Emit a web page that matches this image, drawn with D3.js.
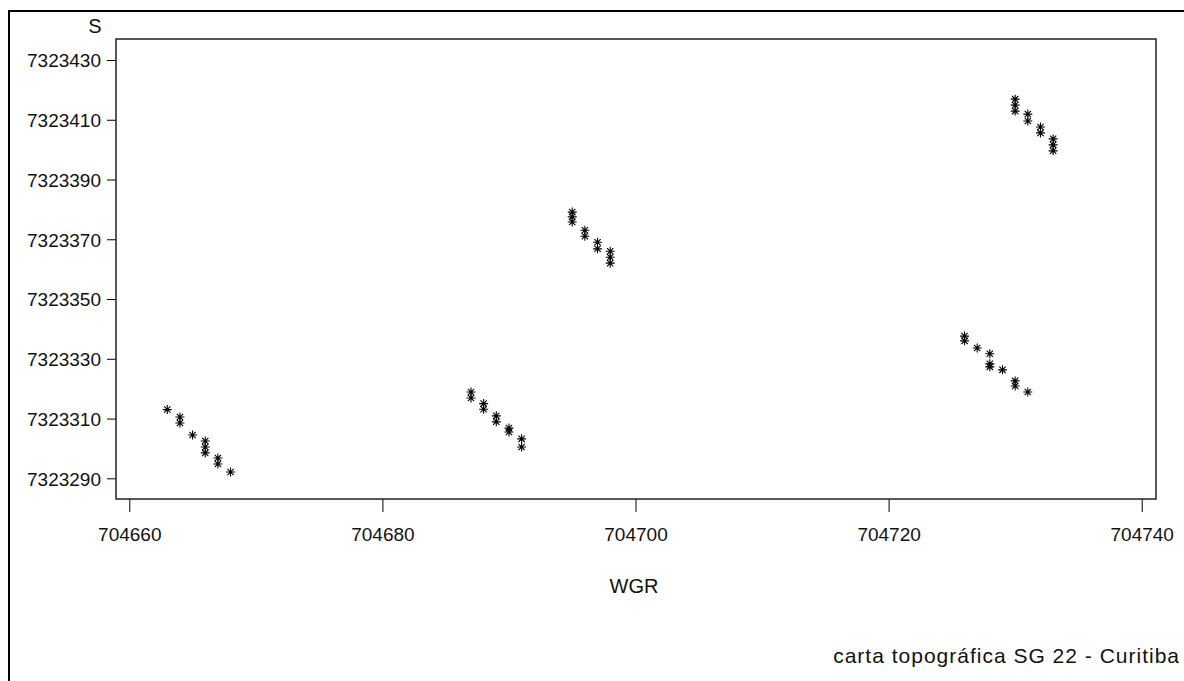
<!DOCTYPE html>
<html>
<head>
<meta charset="utf-8">
<style>
  body { margin: 0; background: #fff; font-family: "Liberation Sans", Arial, sans-serif; }
  svg { display: block; }
  .tick text { font-family: "Liberation Sans", Arial, sans-serif; fill: #111; }
</style>
<script src="https://cdn.jsdelivr.net/npm/d3@7"></script>
</head>
<body>
<svg id="chart"></svg>
<script>
// point coordinates (WGR easting, S northing)
var wgr = [
  704663, 704664, 704664, 704665, 704666, 704666, 704666, 704667, 704667, 704668,
  704687, 704687, 704688, 704688, 704689, 704689, 704690, 704690, 704691, 704691,
  704695, 704695, 704695, 704696, 704696, 704697, 704697, 704698, 704698, 704698,
  704730, 704730, 704730, 704731, 704731, 704732, 704732, 704733, 704733, 704733,
  704726, 704726, 704727, 704728, 704728, 704728, 704729, 704730, 704730, 704731
];
var s = [
  7323313.0, 7323310.5, 7323308.5, 7323304.5, 7323302.5, 7323300.5, 7323298.5, 7323296.8, 7323294.8, 7323292.1,
  7323318.9, 7323316.9, 7323315.0, 7323313.1, 7323310.9, 7323308.9, 7323306.8, 7323305.5, 7323303.2, 7323300.5,
  7323379.1, 7323377.5, 7323375.8, 7323373.0, 7323371.0, 7323369.0, 7323366.8, 7323366.0, 7323364.0, 7323362.0,
  7323416.9, 7323414.9, 7323412.9, 7323411.9, 7323409.6, 7323407.6, 7323405.6, 7323403.6, 7323401.6, 7323399.6,
  7323337.6, 7323336.0, 7323333.6, 7323331.7, 7323328.3, 7323327.3, 7323326.3, 7323322.6, 7323320.9, 7323318.9
];
var xTicks = [704660, 704680, 704700, 704720, 704740];
var yTicks = [7323290, 7323310, 7323330, 7323350, 7323370, 7323390, 7323410, 7323430];

var width = 1184, height = 681;
var svg = d3.select("#chart").attr("width", width).attr("height", height);

// outer frame
svg.append("rect")
  .attr("x", 9).attr("y", 11)
  .attr("width", width + 20).attr("height", height + 20)
  .attr("fill", "none").attr("stroke", "#000").attr("stroke-width", 2);

var plot = { left: 116, top: 39, right: 1156, bottom: 499 };

var x = d3.scaleLinear().domain([704660, 704740]).range([129.3, 1141.7]);
var y = d3.scaleLinear().domain([7323290, 7323430]).range([478.3, 60]);

// x axis
var xAxis = svg.append("g")
  .attr("transform", "translate(0," + plot.bottom + ")")
  .call(d3.axisBottom(x).tickValues(xTicks).tickFormat(d3.format("d"))
    .tickSize(13).tickPadding(16).tickSizeOuter(0));
xAxis.select(".domain").remove();
xAxis.selectAll(".tick text").style("font-size", "19px");

// y axis
var yAxis = svg.append("g")
  .attr("transform", "translate(" + plot.left + ",0)")
  .call(d3.axisLeft(y).tickValues(yTicks).tickFormat(d3.format("d"))
    .tickSize(9).tickPadding(6).tickSizeOuter(0));
yAxis.select(".domain").remove();
yAxis.selectAll(".tick text").style("font-size", "19px").attr("dy", "0.36em");

// plot frame
svg.append("rect")
  .attr("x", plot.left).attr("y", plot.top)
  .attr("width", plot.right - plot.left).attr("height", plot.bottom - plot.top)
  .attr("fill", "none").attr("stroke", "#222").attr("stroke-width", 1.5);

// star markers
var r = 4.5;
var star = "M0," + (-r) + "V" + r +
  "M" + (-r) + ",0H" + r +
  "M" + (-r * 0.7) + "," + (-r * 0.7) + "L" + (r * 0.7) + "," + (r * 0.7) +
  "M" + (-r * 0.7) + "," + (r * 0.7) + "L" + (r * 0.7) + "," + (-r * 0.7);

svg.append("g").selectAll("path")
  .data(d3.range(wgr.length))
  .enter().append("path")
  .attr("transform", function(i) { return "translate(" + x(wgr[i]) + "," + y(s[i]) + ")"; })
  .attr("d", star)
  .attr("fill", "none")
  .attr("stroke", "#000")
  .attr("stroke-width", 1.1);

// labels
svg.append("text").attr("x", 95).attr("y", 33)
  .attr("text-anchor", "middle").style("font-size", "20px").attr("fill", "#111")
  .text("S");

svg.append("text").attr("x", 634).attr("y", 593)
  .attr("text-anchor", "middle").style("font-size", "20px").attr("fill", "#111")
  .text("WGR");

svg.append("text").attr("x", 1180).attr("y", 663)
  .attr("text-anchor", "end").style("font-size", "21px").style("letter-spacing", "1px")
  .attr("fill", "#111")
  .text("carta topográfica SG 22 - Curitiba");
</script>
</body>
</html>
